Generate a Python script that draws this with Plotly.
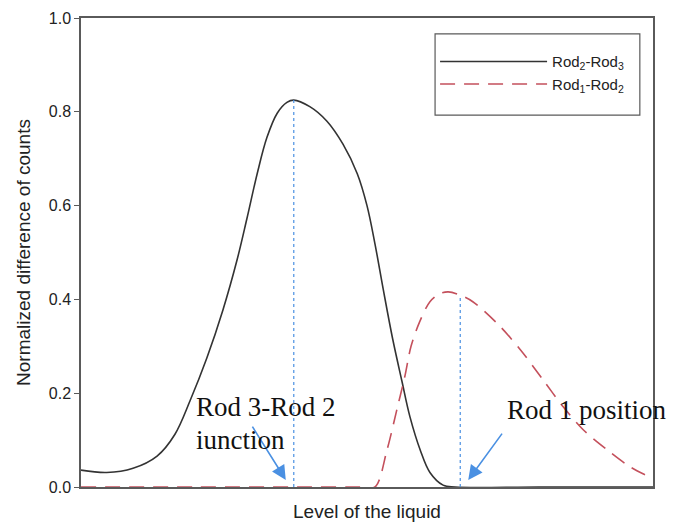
import plotly.graph_objects as go

# Level of the liquid (arbitrary units, 0-100)
black_x = [0, 4.5, 9.1, 13.3, 16.4, 19.1, 22.0, 24.8, 27.3, 29.0, 30.8, 32.5, 34.3, 36.0, 37.2,
           40.0, 43.0, 45.8, 48.3, 50.0, 51.4, 52.8, 54.5, 56.1, 57.5, 59.3, 61.0, 63.3, 65.4, 80, 100]
black_y = [0.036, 0.031, 0.040, 0.066, 0.112, 0.185, 0.275, 0.377, 0.485, 0.572, 0.668, 0.745, 0.797, 0.820, 0.825,
           0.811, 0.780, 0.731, 0.668, 0.600, 0.518, 0.424, 0.315, 0.226, 0.150, 0.079, 0.031, 0.004, 0.0, 0.0, 0.0]

red_x = [0, 20, 40, 49.0, 51.4, 53.5, 55.2, 56.6, 57.7, 59.2, 61.0, 62.7, 64.2, 66.3, 68.5, 73.3,
         77.3, 80.8, 84.3, 87.8, 92.0, 96.0, 100]
red_y = [0.0, 0.0, 0.0, 0.0, 0.0, 0.079, 0.164, 0.235, 0.300, 0.352, 0.395, 0.412, 0.416, 0.409, 0.395, 0.342,
         0.285, 0.228, 0.171, 0.122, 0.079, 0.043, 0.018]

peak_x = [37.2, 66.3]
peak_y = [0.825, 0.409]

y_ticks = [0.0, 0.2, 0.4, 0.6, 0.8, 1.0]

BLUE = "#4a90e2"
AXIS = "#5a5a5a"

fig = go.Figure()
fig.add_trace(go.Scatter(x=black_x, y=black_y, mode="lines", name="Rod<sub>2</sub>-Rod<sub>3</sub>",
                         legendgroup="a",
                         line=dict(color="#333333", width=1.6, shape="spline", smoothing=1.0)))
fig.add_trace(go.Scatter(x=red_x, y=red_y, mode="lines", name="Rod<sub>1</sub>-Rod<sub>2</sub>",
                         legendgroup="b",
                         line=dict(color="#c4505c", width=1.6, dash="15px,9px", shape="spline", smoothing=0.9)))

for px, py in zip(peak_x, peak_y):
    fig.add_trace(go.Scatter(x=[px, px], y=[0, py], mode="lines", showlegend=False,
                             line=dict(color=BLUE, width=1.2, dash="3px,3px"), hoverinfo="skip"))

fig.add_annotation(x=35.8, y=0.015, ax=29.8, ay=0.132, xref="x", yref="y", axref="x", ayref="y",
                   showarrow=True, arrowhead=2, arrowsize=1.8, arrowwidth=1.6, arrowcolor=BLUE, text="")
fig.add_annotation(x=67.7, y=0.015, ax=73.8, ay=0.117, xref="x", yref="y", axref="x", ayref="y",
                   showarrow=True, arrowhead=2, arrowsize=1.8, arrowwidth=1.6, arrowcolor=BLUE, text="")

serif = dict(family="Liberation Serif, Times New Roman, serif", size=27, color="#111111")
fig.add_annotation(x=19.8, y=0.171, xref="x", yref="y", xanchor="left", yanchor="middle", showarrow=False,
                   text="Rod 3-Rod 2", font=serif)
fig.add_annotation(x=19.8, y=0.100, xref="x", yref="y", xanchor="left", yanchor="middle", showarrow=False,
                   text="iunction", font=serif)
fig.add_annotation(x=74.1, y=0.164, xref="x", yref="y", xanchor="left", yanchor="middle", showarrow=False,
                   text="Rod 1 position", font=serif)

# legend frame
fig.add_shape(type="rect", xref="paper", yref="paper", x0=0.619, x1=0.977, y0=0.793, y1=0.966,
              line=dict(color=AXIS, width=1.2), fillcolor="white", layer="below")

fig.update_layout(
    width=681, height=522,
    margin=dict(l=81, r=28, t=18, b=35),
    paper_bgcolor="white", plot_bgcolor="white",
    font=dict(family="Liberation Sans, Arial, sans-serif", color="#222222"),
    showlegend=True,
    legend=dict(x=0.619, y=0.942, xanchor="left", yanchor="top",
                borderwidth=0, bgcolor="rgba(0,0,0,0)",
                font=dict(size=15, color="#222222"), itemwidth=107,
                tracegroupgap=0),
)
fig.update_xaxes(range=[0, 100], showticklabels=False, ticks="", showgrid=False, zeroline=False,
                 showline=True, linecolor=AXIS, linewidth=1.5, mirror=True, automargin=False,
                 title=dict(text="Level of the liquid", font=dict(size=19), standoff=19))
fig.update_yaxes(range=[0, 1.0], tickvals=y_ticks, tickformat=".1f", ticks="outside", ticklen=5,
                 tickcolor=AXIS, showgrid=False, zeroline=False, automargin=False,
                 showline=True, linecolor=AXIS, linewidth=1.5, mirror=True,
                 tickfont=dict(size=16),
                 title=dict(text="Normalized difference of counts", font=dict(size=19), standoff=13))

fig.write_html("out.html")
